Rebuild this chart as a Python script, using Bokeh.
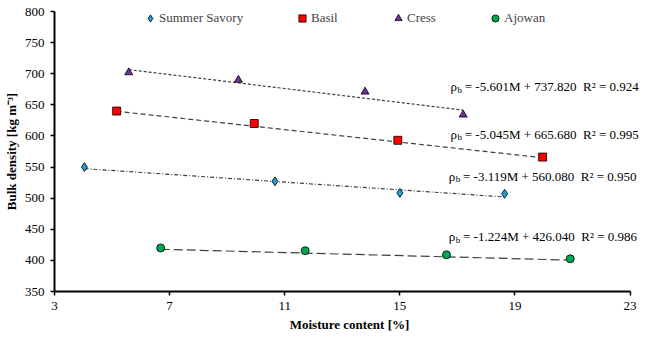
from bokeh.plotting import figure
from bokeh.models import Range1d, FixedTicker, Legend, LegendItem, Label
from bokeh.embed import file_html
from bokeh.resources import INLINE

# ---- data ----
species = ["Summer Savory", "Basil", "Cress", "Ajowan"]
ss_m = [4.04, 10.66, 15.0, 18.64]
ss_rho = [550, 527, 508.5, 507]
basil_m = [5.16, 9.94, 14.93, 19.96]
basil_rho = [640, 620, 593, 566]
cress_m = [5.58, 9.39, 13.79, 17.2]
cress_rho = [702, 690, 671, 634]
ajowan_m = [6.69, 11.71, 16.62, 20.92]
ajowan_rho = [420, 415.5, 409, 402.5]

slopes = [-3.119, -5.045, -5.601, -1.224]
intercepts = [560.080, 665.680, 737.820, 426.040]
r2 = ["0.950", "0.995", "0.924", "0.986"]

x_ticks = [3, 7, 11, 15, 19, 23]
y_ticks = [350, 400, 450, 500, 550, 600, 650, 700, 750, 800]

# equation label anchors (data coords)
eq_x = [16.70, 16.76, 16.76, 16.70]
eq_y = [535, 603, 679, 438]

# legend item screen offsets from frame left
legend_offsets = [87, 239, 335, 432]

FONT = "Liberation Serif"

p = figure(width=646, height=337, output_backend="svg", toolbar_location=None,
           x_range=Range1d(3, 23.5), y_range=Range1d(350, 800),
           min_border_left=53, min_border_right=2, min_border_top=11, min_border_bottom=46,
           background_fill_color="white", border_fill_color="white")
p.outline_line_color = None
p.xgrid.visible = False
p.ygrid.visible = False

for ax in (p.xaxis[0], p.yaxis[0]):
    ax.axis_line_width = 2
    ax.axis_line_color = "black"
    ax.major_tick_line_color = "black"
    ax.major_tick_line_width = 1.5
    ax.major_tick_out = 4
    ax.major_tick_in = 0
    ax.minor_tick_line_color = None
    ax.major_label_text_font = FONT
    ax.major_label_text_font_size = "13px"
    ax.major_label_text_color = "black"
    ax.axis_label_text_font = FONT
    ax.axis_label_text_font_size = "13px"
    ax.axis_label_text_font_style = "bold"
    ax.axis_label_text_color = "black"

p.xaxis.bounds = (3, 23)
p.xaxis.ticker = FixedTicker(ticks=x_ticks)
p.yaxis.ticker = FixedTicker(ticks=y_ticks)
p.xaxis.axis_label = "Moisture content [%]"
p.yaxis.axis_label = "Bulk density [kg m\u207b\u00b3]"
p.xaxis.major_label_standoff = 6
p.yaxis.major_label_standoff = 6
p.xaxis.axis_label_standoff = 4
p.yaxis.axis_label_standoff = 3

series = [
    (ss_m, ss_rho, "diamond", "#1B9FDB", 9, "4 2 1 2"),
    (basil_m, basil_rho, "square", "#FF0000", 8, "5 3"),
    (cress_m, cress_rho, "triangle", "#7030A0", 8, "3 2"),
    (ajowan_m, ajowan_rho, "circle", "#00A650", 8, "9 4"),
]

for i, (m, rho, marker, color, size, dash) in enumerate(series):
    x0, x1 = min(m), max(m)
    p.line([x0, x1], [slopes[i] * x0 + intercepts[i], slopes[i] * x1 + intercepts[i]],
           line_color="#404040", line_width=1.2, line_dash=dash)
    r = p.scatter(m, rho, marker=marker, size=size, fill_color=color,
                  line_color="black", line_width=0.8)
    leg = Legend(items=[LegendItem(label=species[i], renderers=[r])],
                 location=(legend_offsets[i], 264),
                 label_text_font=FONT, label_text_font_size="13px",
                 glyph_width=18, glyph_height=18, label_standoff=0,
                 background_fill_alpha=0, border_line_color=None,
                 padding=0, margin=0)
    p.add_layout(leg)

# equations
for i in range(4):
    rest = "\u00a0= %.3fM + %.3f\u00a0\u00a0R\u00b2 = %s" % (slopes[i], intercepts[i], r2[i])
    p.add_layout(Label(x=eq_x[i], y=eq_y[i], text="\u03c1", text_font=FONT,
                       text_font_size="13px", text_baseline="middle", text_align="left",
                       text_color="black"))
    p.add_layout(Label(x=eq_x[i], y=eq_y[i], text="b", text_font=FONT, x_offset=7, y_offset=-3,
                       text_font_size="9px", text_baseline="middle", text_align="left",
                       text_color="black"))
    p.add_layout(Label(x=eq_x[i], y=eq_y[i], text=rest, text_font=FONT, x_offset=11,
                       text_font_size="13px", text_baseline="middle", text_align="left",
                       text_color="black"))

open("out.html", "w").write(file_html(p, INLINE))
